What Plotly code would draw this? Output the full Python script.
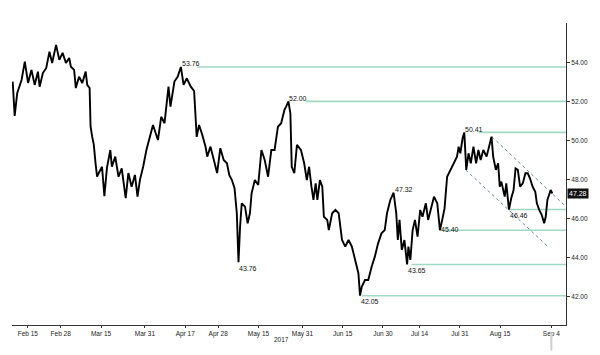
import plotly.graph_objects as go

# Trading sessions counted from Feb 15, 2017 (weekends removed) and price
session = [-4.12,-3.58,-2.88,-1.70,-0.81,0.08,1.00,1.89,2.77,3.23,4.12,5.04,5.92,6.65,7.73,8.62,9.51,10.42,11.31,11.77,
           12.66,13.12,14.00,14.89,15.81,16.24,16.89,17.15,17.59,18.04,18.50,18.93,19.39,20.28,20.92,21.62,22.54,22.97,23.89,24.78,
           25.66,26.74,27.47,28.36,29.27,29.97,30.62,31.51,32.40,33.31,34.20,35.55,36.44,37.35,38.43,38.97,40.05,40.93,41.82,42.55,
           43.44,44.52,45.43,46.13,46.78,47.67,48.55,49.01,49.90,50.82,51.71,52.59,53.51,54.40,55.02,55.75,56.47,57.09,57.55,57.98,
           58.44,59.33,60.05,60.67,61.13,62.02,62.94,63.82,64.71,65.63,66.52,67.41,68.32,69.21,70.10,70.56,71.18,71.72,72.09,72.79,
           73.52,74.60,75.49,76.21,76.83,77.48,78.02,78.64,79.09,79.79,80.44,80.87,81.79,82.22,83.13,84.02,84.91,85.37,85.83,86.71,
           87.60,88.52,88.95,89.87,90.30,90.75,91.21,92.10,92.99,93.91,94.79,95.68,96.60,97.49,98.11,99.02,99.91,100.64,101.07,101.53,
           102.15,102.87,103.60,103.95,104.49,105.11,105.75,106.45,107.18,107.80,108.72,109.34,110.22,110.95,111.84,112.57,113.19,113.83,114.53,115.26,
           115.88,116.53,117.23,117.68,118.14,118.76,119.22,119.76,120.38,121.00,121.72,122.45,123.07,123.69,124.42,125.31,126.03,126.65,127.11,127.84,
           128.46,128.91,129.34,130.26,130.69,131.42,132.04,132.68,133.22,133.84,134.46,135.19,135.92,136.54,137.16,137.88,138.61,139.04,139.68,140.39,
           141.03,141.46,141.92,142.38,142.81,143.27]
price = [53.01,51.25,52.43,53.09,54.03,52.94,53.61,52.84,53.52,52.75,53.45,53.71,54.54,53.96,54.89,54.12,54.48,53.96,54.22,53.77,
         53.61,52.68,53.26,52.94,53.52,52.84,52.68,50.70,50.19,49.77,48.84,48.14,48.33,48.65,47.15,48.59,49.51,48.65,49.17,48.14,
         48.57,47.04,48.33,47.63,48.23,47.12,47.97,48.65,49.51,50.19,50.79,50.02,51.21,50.88,52.75,51.73,53.01,53.26,53.76,52.84,
         53.18,52.75,52.53,50.18,50.79,50.28,49.68,49.17,49.68,49.00,48.33,49.60,49.00,48.83,48.23,47.97,47.55,46.27,43.76,45.58,
         46.78,46.61,45.76,46.27,47.29,47.97,47.72,49.51,49.00,48.14,49.51,49.51,50.70,50.88,51.56,51.73,52.00,51.39,48.65,48.32,
         49.77,49.51,48.83,47.97,48.65,47.63,46.95,47.80,46.95,47.97,47.63,46.09,45.93,45.41,46.27,46.44,46.27,45.58,44.90,44.56,
         44.90,44.56,44.22,43.53,43.20,42.05,42.51,42.85,42.85,43.53,44.05,44.73,45.24,45.41,46.27,46.95,47.32,46.27,44.90,45.93,
         44.39,44.90,43.65,44.56,43.88,45.41,45.93,45.07,46.44,46.09,46.78,45.93,46.61,47.12,46.78,45.40,45.93,46.52,48.14,48.40,
         48.65,48.91,49.17,49.68,49.34,50.11,50.41,48.49,49.34,48.83,49.68,48.83,49.51,49.00,49.51,49.17,49.68,50.19,49.17,48.49,
         48.83,47.63,47.89,47.12,47.80,46.46,47.04,47.46,48.57,48.49,47.63,47.80,48.32,48.32,48.06,47.63,47.37,46.78,46.44,46.18,
         45.76,46.09,46.95,47.20,47.46,47.28]

tick_sessions = [0, 9, 20, 32, 43, 52, 63, 75, 86, 97, 107, 118, 129, 143]
tick_labels = ["Feb 15", "Feb 28", "Mar 15", "Mar 31", "Apr 17", "Apr 28", "May 15",
               "May 31", "Jun 15", "Jun 30", "Jul 14", "Jul 31", "Aug 15", "Sep 4"]
y_ticks = [42, 44, 46, 48, 50, 52, 54]

# key levels: (session of turning point, value, kind, horizontal line start session)
level_session = [41.82, 71.18, 119.22, 99.91, 57.55, 90.75, 103.60, 112.57, 131.42]
level_value = [53.76, 52.00, 50.41, 47.32, 43.76, 42.05, 43.65, 45.40, 46.46]
level_kind = ["peak", "peak", "peak", "peak", "low", "low", "low", "mid", "low"]
level_line_from = [46.3, 75.9, 123.1, None, None, 91.3, 104.8, 113.1, 131.7]

# descending channel (session, value)
chan_upper = [(126.8, 50.18), (146.8, 46.64)]
chan_lower = [(119.6, 48.49), (142.2, 44.54)]

last_price = 47.28
x_range = [-4.31, 147.0]
y_range = [40.55, 56.01]

GREEN = "#9fd9c2"
fig = go.Figure()

shapes = []
for s, v, start in zip(level_session, level_value, level_line_from):
    if start is None:
        continue
    shapes.append(dict(type="line", xref="x", yref="y", x0=start, x1=x_range[1], y0=v, y1=v,
                       line=dict(color=GREEN, width=1.6), layer="below"))

for ch in (chan_upper, chan_lower):
    fig.add_trace(go.Scatter(x=[p[0] for p in ch], y=[p[1] for p in ch], mode="lines",
                             line=dict(color="#5f82a3", width=1, dash="3px,3px"),
                             hoverinfo="skip", showlegend=False))

fig.add_trace(go.Scatter(x=session, y=price, mode="lines",
                         line=dict(color="#000000", width=1.9), showlegend=False))

annotations = []
for s, v, k in zip(level_session, level_value, level_kind):
    yshift = {"peak": 3, "low": -6, "mid": 1}[k]
    annotations.append(dict(x=s, y=v, xref="x", yref="y", text=f"{v:.2f}", showarrow=False,
                            xanchor="left", yanchor="middle", xshift=-1, yshift=yshift,
                            font=dict(family="Liberation Sans", size=7, color="#111111")))

annotations.append(dict(x=1, y=last_price, xref="paper", yref="y", text=f"{last_price:.2f}",
                        showarrow=False, xanchor="left", yanchor="middle", xshift=1,
                        bgcolor="#111111", borderpad=1,
                        font=dict(family="Liberation Sans", size=7, color="#ffffff")))
annotations.append(dict(x=0.486, y=0, xref="paper", yref="paper", text="2017", showarrow=False,
                        xanchor="center", yanchor="top", yshift=-9,
                        font=dict(family="Liberation Sans", size=6.5, color="#222222")))

shapes.append(dict(type="line", xref="x", yref="paper", x0=143, x1=143, y0=-0.025, y1=-0.085,
                   line=dict(color="#d0d0d0", width=2)))

fig.update_layout(
    width=600, height=355,
    margin=dict(l=12, r=26, t=23, b=30),
    paper_bgcolor="white", plot_bgcolor="white",
    shapes=shapes, annotations=annotations,
    xaxis=dict(range=x_range, tickmode="array", tickvals=tick_sessions, ticktext=tick_labels,
               showgrid=False, zeroline=False, showline=True, linecolor="#333333", linewidth=1,
               ticks="outside", ticklen=2, tickcolor="#333333",
               tickfont=dict(family="Liberation Sans", size=6.5, color="#222222")),
    yaxis=dict(range=y_range, side="right", tickmode="array", tickvals=y_ticks,
               ticktext=[f"{t:.2f}" for t in y_ticks],
               showgrid=False, zeroline=False, showline=True, linecolor="#333333", linewidth=1,
               ticks="outside", ticklen=3, tickcolor="#333333",
               tickfont=dict(family="Liberation Sans", size=6.5, color="#222222")),
)

fig.write_html("out.html")
